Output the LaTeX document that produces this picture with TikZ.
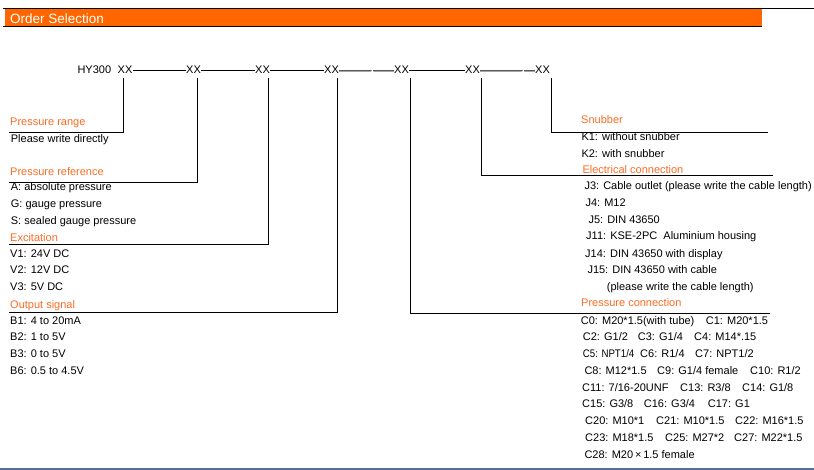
\documentclass[tikz,border=0pt]{standalone}
\usepackage{fontspec}
\setmainfont{Liberation Sans}
\definecolor{barorange}{RGB}{255,102,0}
\definecolor{laborange}{RGB}{250,108,36}
\definecolor{steel}{RGB}{84,112,150}
\tikzset{
  txt/.style={anchor=base west, inner sep=0pt, font=\fontsize{11}{13}\selectfont},
  lab/.style={txt, text=laborange},
  conn/.style={line width=0.9pt, black},
}
\begin{document}
\begin{tikzpicture}[x=1pt,y=-1pt]
\useasboundingbox (0,0) rectangle (814,470);
% header
\fill[barorange] (5,9.5) rectangle (762,26);
\draw[line width=1.6pt] (3,8.6) -- (762,8.6);
\draw[line width=0.8pt] (762,8.2) -- (814,8.2);
\draw[line width=1.2pt] (3,26.2) -- (762,26.2);
\node[anchor=base west, inner sep=0pt, text=white, font=\fontsize{13.5}{15}\selectfont] (title) at (10,23.3) {Order Selection};
% code line
\node[txt] (hy) at (77.3,73.3) {HY300};
\node[txt] (x1) at (117.5,73.3) {XX};
\node[txt] (x2) at (186,73.3) {XX};
\node[txt] (x3) at (255,73.3) {XX};
\node[txt] (x4) at (324,73.3) {XX};
\node[txt] (x5) at (394,73.3) {XX};
\node[txt] (x6) at (465,73.3) {XX};
\node[txt] (x7) at (535,73.3) {XX};
\coordinate (g1a) at (371.5,70.8);
\coordinate (g1b) at (373,70.8);
\coordinate (g2a) at (522.5,70.8);
\coordinate (g2b) at (524,70.8);
\draw[conn] ([yshift=-1.4pt]x1.east) -- ([yshift=-1.4pt]x2.west);
\draw[conn] ([yshift=-1.4pt]x2.east) -- ([yshift=-1.4pt]x3.west);
\draw[conn] ([yshift=-1.4pt]x3.east) -- ([yshift=-1.4pt]x4.west);
\draw[conn] ([yshift=-1.4pt]x4.east) -- (g1a);
\draw[conn] (g1b) -- ([yshift=-1.4pt]x5.west);
\draw[conn] ([yshift=-1.4pt]x5.east) -- ([yshift=-1.4pt]x6.west);
\draw[conn] ([yshift=-1.4pt]x6.east) -- (g2a);
\draw[conn] (g2b) -- ([yshift=-1.4pt]x7.west);
% drop lines
\coordinate (t1) at (123,78);  \coordinate (e1) at (9,132);
\coordinate (t2) at (197,78);  \coordinate (e2) at (9,182);
\coordinate (t3) at (268,78);  \coordinate (e3) at (9,244);
\coordinate (t4) at (337,78);  \coordinate (e4) at (9,312);
\coordinate (t5) at (410.5,78);\coordinate (e5) at (770,313.3);
\coordinate (t6) at (481,78);  \coordinate (e6) at (773,175.5);
\coordinate (t7) at (551,78);  \coordinate (e7) at (768,132.3);
\draw[conn] (t1) |- (e1);
\draw[conn] (t2) |- (e2);
\draw[conn] (t3) |- (e3);
\draw[conn] (t4) |- (e4);
\draw[conn] (t5) |- (e5);
\draw[conn] (t6) |- (e6);
\draw[conn] (t7) |- (e7);
% left column
\node[lab] (prl) at (10,126) {Pressure range};
\node[txt] (pr1) at (10.7,142.3) {Please write directly};
\node[lab] (pfl) at (10,175.7) {Pressure reference};
\node[txt] (pf1) at (10.7,191) {A: absolute pressure};
\node[txt] (pf2) at (10.7,207.7) {G: gauge pressure};
\node[txt] (pf3) at (10.7,224.3) {S: sealed gauge pressure};
\node[lab] (exl) at (10,241.7) {Excitation};
\node[txt] (ex1) at (10,257.3) {V1: 24V DC};
\node[txt] (ex2) at (10,274) {V2: 12V DC};
\node[txt] (ex3) at (10,290.7) {V3: 5V DC};
\node[lab] (osl) at (10,308.3) {Output signal};
\node[txt] (os1) at (10,324.3) {B1: 4 to 20mA};
\node[txt] (os2) at (10,341) {B2: 1 to 5V};
\node[txt] (os3) at (10,357.7) {B3: 0 to 5V};
\node[txt] (os4) at (10,374.3) {B6: 0.5 to 4.5V};
% right column
\node[lab] (snl) at (581,123.3) {Snubber};
\node[txt] (sn1) at (581.3,141) {K1: without snubber};
\node[txt] (sn2) at (581.3,157.3) {K2: with snubber};
\node[lab] (ecl) at (582.3,173.3) {Electrical connection};
\node[txt] (ec1) at (584.3,190) {J3: Cable outlet (please write the cable length)};
\node[txt] (ec2) at (585.3,206.7) {J4: M12};
\node[txt] (ec3) at (588.3,223.3) {J5: DIN 43650};
\node[txt] (ec4) at (586,240) {J11: KSE-2PC\ \ Aluminium housing};
\node[txt] (ec5) at (585,257.3) {J14: DIN 43650 with display};
\node[txt] (ec6) at (587.3,274) {J15: DIN 43650 with cable};
\node[txt] (ec7) at (606.7,290.7) {(please write the cable length)};
\node[lab] (pcl) at (581,306.7) {Pressure connection};
\node[txt] (c0) at (580.7,324) {C0: M20*1.5(with tube)};
\node[txt] (c1) at (705.7,324) {C1: M20*1.5};
\node[txt] (c2) at (582.7,340.7) {C2: G1/2};
\node[txt] (c3) at (637.7,340.7) {C3: G1/4};
\node[txt] (c4) at (694,340.7) {C4: M14*.15};
\node[txt] (c5) at (582.7,357.7) {\scalebox{0.88}[1]{C5: NPT1/4}};
\node[txt] (c6) at (640,357.7) {C6: R1/4};
\node[txt] (c7) at (695,357.7) {C7: NPT1/2};
\node[txt] (c8) at (584.3,374.3) {C8: M12*1.5};
\node[txt] (c9) at (657,374.3) {C9: G1/4 female};
\node[txt] (c10) at (750,374.3) {C10: R1/2};
\node[txt] (c11) at (582,391) {C11: 7/16-20UNF};
\node[txt] (c13) at (680,391) {C13: R3/8};
\node[txt] (c14) at (742,391) {C14: G1/8};
\node[txt] (c15) at (582,407.7) {C15: G3/8};
\node[txt] (c16) at (643.7,407.7) {C16: G3/4};
\node[txt] (c17) at (707.7,407.7) {C17: G1};
\node[txt] (c20) at (585,424.3) {C20: M10*1};
\node[txt] (c21) at (656,424.3) {C21: M10*1.5};
\node[txt] (c22) at (735,424.3) {C22: M16*1.5};
\node[txt] (c23) at (585,441) {C23: M18*1.5};
\node[txt] (c25) at (665,441) {C25: M27*2};
\node[txt] (c27) at (734,441) {C27: M22*1.5};
\node[txt] (c28) at (584.3,458.3) {C28: M20\,×\,1.5 female};
% bottom rule
\draw[steel, line width=2pt] (0,468.5) -- (814,468.5);
\end{tikzpicture}
\end{document}
